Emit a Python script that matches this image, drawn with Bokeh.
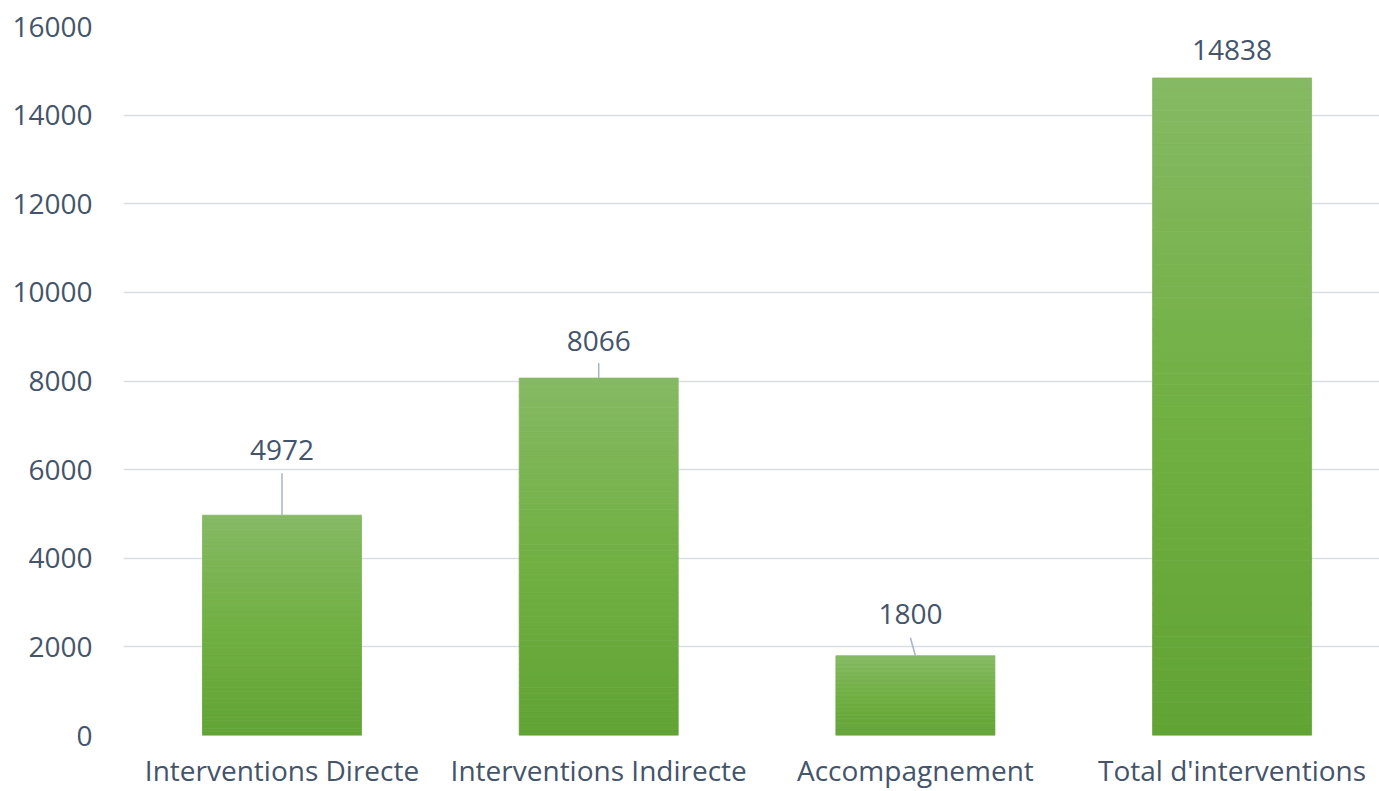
from bokeh.plotting import figure
from bokeh.models import Range1d, FixedTicker, ColumnDataSource
from bokeh.core.properties import value
from bokeh.embed import file_html
from bokeh.resources import INLINE

categories = ["Interventions Directe", "Interventions Indirecte", "Accompagnement", "Total d'interventions"]
values = [4972, 8066, 1800, 14838]
y_ticks = [0, 2000, 4000, 6000, 8000, 10000, 12000, 14000, 16000]

# layout of the value labels (pixels)
label_dy_px = [65, 37, 42, 28]
label_dx_px = [0, 0, -5, 0]
leader_len_px = [42, 15, 18, 0]

TEXT = "#44546A"
FONT = "Open Sans"

W, H = 1379, 791
BL, BT, BB, BR = 123, 26, 56, 0
frame_w = W - BL - BR
frame_h = H - BT - BB
x0 = -(281.5 - 123) / 316.7
x1 = x0 + frame_w / 316.7

p = figure(width=W, height=H, output_backend="svg", toolbar_location=None,
           x_range=Range1d(x0, x1), y_range=Range1d(0, 16000),
           min_border_left=BL, min_border_right=BR, min_border_top=BT, min_border_bottom=BB)
p.outline_line_color = None
p.background_fill_color = "white"

ypx = 16000 / frame_h
xpx = (x1 - x0) / frame_w

def lerp(c1, c2, t):
    return tuple(int(round(a + (b - a) * t)) for a, b in zip(c1, c2))

bottom_c = (98, 163, 54)
mid_c = (113, 176, 67)
top_c = (134, 185, 100)
N = 60
xs, bots, tops, cols = [], [], [], []
for i, v in enumerate(values):
    for k in range(N):
        f = (k + 0.5) / N
        if f < 0.5:
            c = lerp(bottom_c, mid_c, f / 0.5)
        else:
            c = lerp(mid_c, top_c, (f - 0.5) / 0.5)
        xs.append(i)
        bots.append(v * k / N)
        tops.append(v * (k + 1) / N)
        cols.append("#%02x%02x%02x" % c)
src = ColumnDataSource(dict(x=xs, bottom=bots, top=tops, color=cols))
p.vbar(x="x", bottom="bottom", top="top", width=0.502, fill_color="color", line_color="color", line_width=0.8, source=src)

# leader lines
lx0, ly0, lx1, ly1 = [], [], [], []
for i, v in enumerate(values):
    if leader_len_px[i] > 0:
        lx0.append(i)
        ly0.append(v)
        lx1.append(i + label_dx_px[i] * xpx)
        ly1.append(v + leader_len_px[i] * ypx)
p.segment(lx0, ly0, lx1, ly1, line_color="#A9B4C2", line_width=1.5)

# value labels
lsrc = ColumnDataSource(dict(
    x=[i + label_dx_px[i] * xpx for i in range(len(values))],
    y=[v + label_dy_px[i] * ypx for i, v in enumerate(values)],
    t=[str(v) for v in values]))
p.text(x="x", y="y", text="t", source=lsrc, text_font=value(FONT), text_font_size="28px",
       text_color=TEXT, text_align="center", text_baseline="middle")

# axes
p.xaxis.ticker = FixedTicker(ticks=list(range(len(categories))))
p.xaxis.major_label_overrides = {i: c for i, c in enumerate(categories)}
p.yaxis.ticker = FixedTicker(ticks=y_ticks)
for ax in (p.xaxis, p.yaxis):
    ax.axis_line_color = None
    ax.major_tick_line_color = None
    ax.major_tick_out = 0
    ax.major_tick_in = 0
    ax.minor_tick_line_color = None
    ax.major_label_text_font = FONT
    ax.major_label_text_font_size = "28px"
    ax.major_label_text_color = TEXT
p.xaxis.major_label_standoff = 15
p.yaxis.major_label_standoff = 31
p.xgrid.grid_line_color = None
p.ygrid.grid_line_color = "#D9DDE4"
p.ygrid.grid_line_width = 1.6
p.ygrid.ticker = FixedTicker(ticks=y_ticks)

open("out.html", "w").write(file_html(p, INLINE))
